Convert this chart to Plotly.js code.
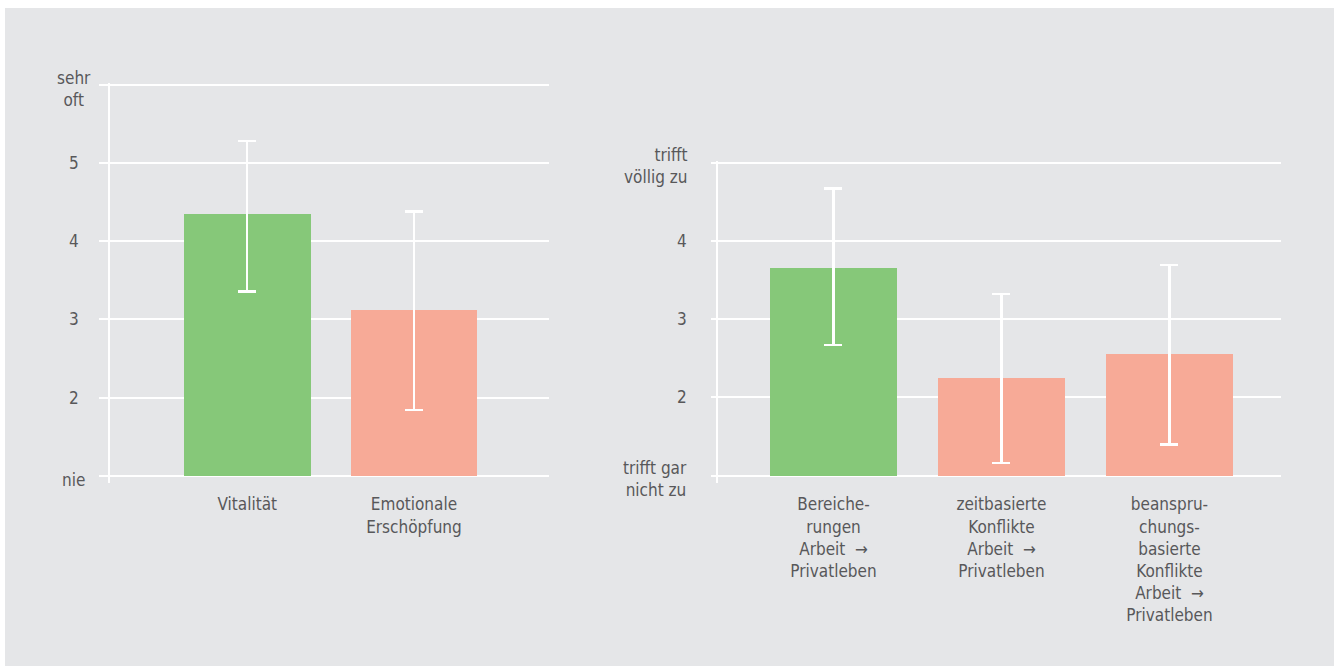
<!DOCTYPE html>
<html>
<head>
<meta charset="utf-8">
<script src="https://cdn.plot.ly/plotly-3.0.1.min.js"></script>
<style>
  html, body { margin: 0; padding: 0; background: #ffffff; }
  #chart { position: absolute; left: 5px; top: 8px; width: 1329px; height: 658px; }
</style>
</head>
<body>
<div id="chart"></div>
<script>
// ---- Data ----
const leftCategories = ['Vitalität', 'Emotionale<br>Erschöpfung'];
const leftMeans      = [4.35, 3.12];
const leftErrPlus    = [0.93, 1.26];
const leftErrMinus   = [0.99, 1.28];
const leftColors     = ['#86c879', '#f7aa97'];

const rightCategories = ['Bereiche-<br>rungen<br>Arbeit  →<br>Privatleben',
                         'zeitbasierte<br>Konflikte<br>Arbeit  →<br>Privatleben',
                         'beanspru-<br>chungs-<br>basierte<br>Konflikte<br>Arbeit  →<br>Privatleben'];
const rightMeans      = [3.65, 2.25, 2.56];
const rightErrPlus    = [1.02, 1.07, 1.13];
const rightErrMinus   = [0.98, 1.09, 1.16];
const rightColors     = ['#86c879', '#f7aa97', '#f7aa97'];

const leftTickVals  = [1, 2, 3, 4, 5, 6];
const leftTickText  = ['nie', '2', '3', '4', '5', 'sehr<br>oft'];
const rightTickVals = [1, 2, 3, 4, 5];
const rightTickText = ['trifft gar<br>nicht zu', '2', '3', '4', 'trifft<br>völlig zu'];

const BASE = 1;

// ---- Styling ----
const FONT = '"DejaVu Sans Condensed", "Open Sans", sans-serif';
const TEXT = '#58585a';
const FS = 17;

function idx(a) { return a.map((_, i) => i); }

const traces = [
  {
    type: 'bar', xaxis: 'x', yaxis: 'y',
    x: idx(leftCategories), y: leftMeans.map(v => v - BASE), base: BASE,
    width: 0.76,
    marker: { color: leftColors, line: { width: 0 } },
    error_y: { type: 'data', symmetric: false, array: leftErrPlus, arrayminus: leftErrMinus,
               color: '#ffffff', thickness: 2.5, width: 9 },
    hoverinfo: 'skip', showlegend: false
  },
  {
    type: 'bar', xaxis: 'x2', yaxis: 'y2',
    x: idx(rightCategories), y: rightMeans.map(v => v - BASE), base: BASE,
    width: 0.756,
    marker: { color: rightColors, line: { width: 0 } },
    error_y: { type: 'data', symmetric: false, array: rightErrPlus, arrayminus: rightErrMinus,
               color: '#ffffff', thickness: 2.5, width: 9 },
    hoverinfo: 'skip', showlegend: false
  }
];

const yCommon = {
  showgrid: true, gridcolor: '#ffffff', gridwidth: 2,
  zeroline: false, showline: true, linecolor: '#ffffff', linewidth: 2,
  ticks: 'outside', tickcolor: '#ffffff', tickwidth: 2,
  showticklabels: false, fixedrange: true
};
const xCommon = {
  showgrid: false, zeroline: false, showline: false, ticks: '',
  tickfont: { family: FONT, size: FS, color: TEXT }, fixedrange: true,
  ticklabelstandoff: 9
};

const annotations = [];
leftTickVals.forEach((v, i) => {
  const isWord = isNaN(Number(leftTickText[i]));
  annotations.push({
    xref: 'paper', yref: 'y', x: 0.0519, y: v, text: leftTickText[i],
    xanchor: 'center', yanchor: 'middle', align: 'center', showarrow: false,
    yshift: isWord ? -4 : 0,
    font: { family: FONT, size: FS, color: TEXT }
  });
});
rightTickVals.forEach((v, i) => {
  const isWord = isNaN(Number(rightTickText[i]));
  annotations.push({
    xref: 'paper', yref: 'y2', x: 0.5147, y: v, text: rightTickText[i],
    xanchor: 'right', yanchor: 'middle', align: 'right', showarrow: false,
    yshift: isWord ? -3 : 0,
    font: { family: FONT, size: FS, color: TEXT }
  });
});

const layout = {
  width: 1329, height: 658,
  margin: { l: 0, r: 0, t: 0, b: 0, pad: 0 },
  paper_bgcolor: '#e5e6e8', plot_bgcolor: 'rgba(0,0,0,0)',
  font: { family: FONT, size: FS, color: TEXT },
  showlegend: false,
  bargap: 0,
  xaxis: Object.assign({}, xCommon, {
    domain: [0.07901, 0.40933], range: [-0.823, 1.81],
    tickmode: 'array', tickvals: idx(leftCategories), ticktext: leftCategories,
    anchor: 'y'
  }),
  yaxis: Object.assign({}, yCommon, {
    domain: [0.27736, 0.88601], range: [0.9, 6.025], ticklen: 9,
    tickmode: 'array', tickvals: leftTickVals, anchor: 'x'
  }),
  xaxis2: Object.assign({}, xCommon, {
    domain: [0.53650, 0.96012], range: [-0.6875, 2.664],
    tickmode: 'array', tickvals: idx(rightCategories), ticktext: rightCategories,
    anchor: 'y2'
  }),
  yaxis2: Object.assign({}, yCommon, {
    domain: [0.27736, 0.76792], range: [0.9, 5.025], ticklen: 5,
    tickmode: 'array', tickvals: rightTickVals, anchor: 'x2'
  }),
  annotations: annotations
};

Plotly.newPlot('chart', traces, layout, { displayModeBar: false, staticPlot: true });
</script>
</body>
</html>
